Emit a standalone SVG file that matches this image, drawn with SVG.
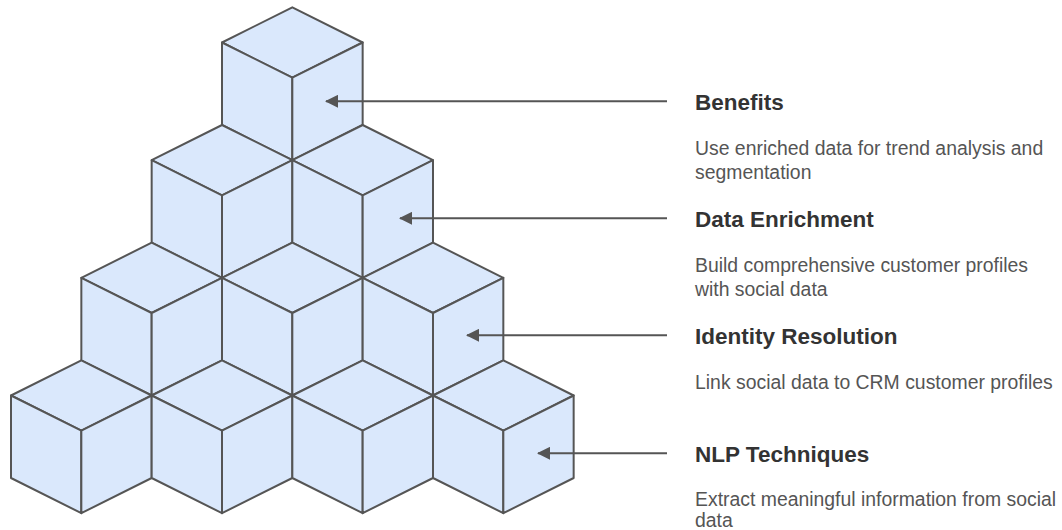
<svg xmlns="http://www.w3.org/2000/svg" xmlns:xlink="http://www.w3.org/1999/xlink" width="1062" height="530" viewBox="0 0 1062 530">
<style>
.face{fill:#dae8fc;stroke:#555;stroke-width:2;stroke-linejoin:round}
.conn{stroke:#555;stroke-width:2;fill:none}
.title{font-family:"Liberation Sans",Arial,sans-serif;font-weight:bold;font-size:22.5px;fill:#333}
.desc{font-family:"Liberation Sans",Arial,sans-serif;font-size:19.4px;fill:#555}
</style>
<defs>
<g id="cube">
<path class="face" d="M0,0 L70.33,35.17 L0,70.33 L-70.33,35.17 Z"/>
<path class="face" d="M-70.33,35.17 L0,70.33 L0,152.83 L-70.33,117.67 Z"/>
<path class="face" d="M70.33,35.17 L0,70.33 L0,152.83 L70.33,117.67 Z"/>
</g>
<marker id="arrow" viewBox="0 0 13 13" refX="12" refY="6.5" markerWidth="13" markerHeight="13" markerUnits="userSpaceOnUse" orient="auto">
<path d="M0,0 L13,6.5 L0,13 Z" fill="#555"/>
</marker>
</defs>
<g id="cubes">
<g id="cube-1-1" transform="translate(292.33,7.33)"><use href="#cube"/></g>
<g id="cube-2-1" transform="translate(222,125)"><use href="#cube"/></g>
<g id="cube-2-2" transform="translate(362.67,125)"><use href="#cube"/></g>
<g id="cube-3-1" transform="translate(151.67,242.67)"><use href="#cube"/></g>
<g id="cube-3-2" transform="translate(292.33,242.67)"><use href="#cube"/></g>
<g id="cube-3-3" transform="translate(433,242.67)"><use href="#cube"/></g>
<g id="cube-4-1" transform="translate(81.33,360.33)"><use href="#cube"/></g>
<g id="cube-4-2" transform="translate(222,360.33)"><use href="#cube"/></g>
<g id="cube-4-3" transform="translate(362.67,360.33)"><use href="#cube"/></g>
<g id="cube-4-4" transform="translate(503.33,360.33)"><use href="#cube"/></g>
</g>
<g id="connectors">
<line class="conn" x1="667" y1="101.3" x2="326" y2="101.3" marker-end="url(#arrow)"/>
<line class="conn" x1="667" y1="218.3" x2="400" y2="218.3" marker-end="url(#arrow)"/>
<line class="conn" x1="667" y1="335.3" x2="467" y2="335.3" marker-end="url(#arrow)"/>
<line class="conn" x1="667" y1="453.3" x2="538" y2="453.3" marker-end="url(#arrow)"/>
</g>
<g id="label-benefits">
<text class="title" x="695" y="109.5">Benefits</text>
<text class="desc" x="695" y="155">Use enriched data for trend analysis and</text>
<text class="desc" x="695" y="179">segmentation</text>
</g>
<g id="label-data-enrichment">
<text class="title" x="695" y="226.5">Data Enrichment</text>
<text class="desc" x="695" y="272">Build comprehensive customer profiles</text>
<text class="desc" x="695" y="296">with social data</text>
</g>
<g id="label-identity-resolution">
<text class="title" x="695" y="343.5">Identity Resolution</text>
<text class="desc" x="695" y="389">Link social data to CRM customer profiles</text>
</g>
<g id="label-nlp-techniques">
<text class="title" x="695" y="461.5">NLP Techniques</text>
<text class="desc" x="695" y="505.5">Extract meaningful information from social</text>
<text class="desc" x="695" y="527">data</text>
</g>
</svg>
